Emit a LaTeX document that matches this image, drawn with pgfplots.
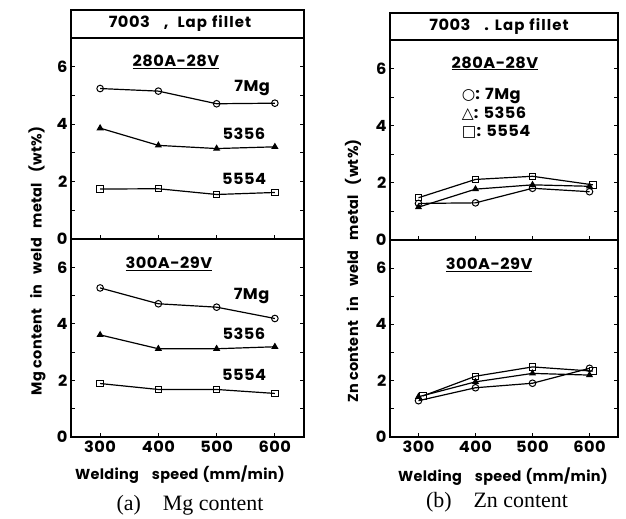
\documentclass[border=0pt]{standalone}
\usepackage{fontspec}
\setmainfont{Poppins}
\newfontfamily\lblfont{Poppins}[LetterSpace=3, FakeStretch=1.05]
\newfontfamily\txtfont{Poppins}[LetterSpace=2]
\newfontfamily\ttlfont{Poppins}[LetterSpace=7]
\newfontfamily\capfont{Liberation Serif}
\newfontfamily\symfont{DejaVu Sans}
\usepackage{pgfplots}
\pgfplotsset{compat=1.18}

\newcommand{\lbl}{\lblfont\bfseries\fontsize{15.5}{18.5}\selectfont}
\newcommand{\txt}{\txtfont\bfseries\fontsize{14.5}{17}\selectfont}
\newcommand{\gap}{\hspace{10bp}}

\pgfplotsset{
  panel/.style={
    scale only axis, xmin=250, xmax=650, ymin=0, ymax=7,
    xtick={300,400,500,600}, ytick={0,1,2,3,4,5,6},
    yticklabels={0,,2,,4,,6},
    xtick pos=left, ytick pos=both,
    tick align=inside, major tick length=4bp,
    axis line style={line width=1.3bp},
    every tick/.style={black, line width=0.9bp},
    /pgf/number format/assume math mode=true,
    ticklabel style={font=\lbl},
    clip=false,
  },
  ser/.style={black, line width=1.2bp, mark options={solid, fill=white, line width=1bp}},
  mg/.style={ser, mark=o, mark size=3.3bp},
  tri/.style={ser, mark=triangle*, mark size=3bp, mark options={fill=black}},
  sq/.style={ser, mark=square, mark size=3.2bp},
}

\begin{document}
\begin{tikzpicture}
\path[use as bounding box] (0,0) rectangle (626bp,519bp);

% ---- (a) Mg content, 280A-28V
\begin{axis}[panel, at={(71bp,280bp)}, anchor=south west,
  width=233bp, height=201bp, xticklabels={}]
  \addplot[mg] coordinates {(300,5.24) (400,5.15) (500,4.71) (600,4.73)};
  \addplot[tri] coordinates {(300,3.86) (400,3.26) (500,3.15) (600,3.21)};
  \addplot[sq] coordinates {(300,1.74) (400,1.75) (500,1.55) (600,1.62)};
  \node[font=\lbl] at (axis cs:430,6.18) {\underline{280A-28V}};
  \node[font=\lbl] at (axis cs:561,5.25) {7Mg};
  \node[font=\lbl] at (axis cs:547,3.66) {5356};
  \node[font=\lbl] at (axis cs:547,2.08) {5554};
\end{axis}
\draw[line width=1.3bp] (71bp,481bp) rectangle (304bp,509bp);
\node[font=\lbl] at (180bp,495bp)
  {7003\hspace{14bp},\hspace{9bp}{\ttlfont\bfseries\fontsize{15}{18}\selectfont Lap\hspace{5bp}fillet}};

% ---- (a) Mg content, 300A-29V
\begin{axis}[panel, at={(71bp,82bp)}, anchor=south west,
  width=233bp, height=198bp]
  \addplot[mg] coordinates {(300,5.27) (400,4.71) (500,4.59) (600,4.19)};
  \addplot[tri] coordinates {(300,3.61) (400,3.12) (500,3.12) (600,3.19)};
  \addplot[sq] coordinates {(300,1.89) (400,1.68) (500,1.68) (600,1.54)};
  \node[font=\lbl] at (axis cs:418,6.12) {\underline{300A-29V}};
  \node[font=\lbl] at (axis cs:560,5.00) {7Mg};
  \node[font=\lbl] at (axis cs:547,3.65) {5356};
  \node[font=\lbl] at (axis cs:547,2.21) {5554};
\end{axis}

% ---- (b) Zn content, 280A-28V
\begin{axis}[panel, at={(390bp,279bp)}, anchor=south west,
  width=228bp, height=200bp, xticklabels={}]
  \addplot[mg] coordinates {(300,1.28) (400,1.30) (500,1.81) (600,1.69)};
  \addplot[tri] coordinates {(300,1.15) (400,1.78) (500,1.93) (600,1.88)};
  \addplot[sq] coordinates {(300,1.48) (400,2.12) (500,2.23) (606,1.93)};
  \node[font=\lbl] at (axis cs:434,6.18) {\underline{280A-28V}};
  \node[font=\lbl, anchor=west, align=left] at (axis cs:370,4.42)
    {{\symfont\bfseries ○}: 7Mg\\[0pt] {\symfont\bfseries △}: 5356\\[0pt] {\symfont\bfseries □}: 5554};
\end{axis}
\draw[line width=1.3bp] (390bp,479bp) rectangle (618bp,506bp);
\node[font=\lbl] at (499bp,492.5bp)
  {7003\hspace{14bp}.\hspace{6bp}{\ttlfont\bfseries\fontsize{15}{18}\selectfont Lap\hspace{5bp}fillet}};

% ---- (b) Zn content, 300A-29V
\begin{axis}[panel, at={(390bp,82bp)}, anchor=south west,
  width=228bp, height=197bp]
  \addplot[mg] coordinates {(300,1.29) (400,1.75) (500,1.91) (600,2.44)};
  \addplot[tri] coordinates {(300,1.43) (400,1.96) (500,2.26) (600,2.20)};
  \addplot[sq] coordinates {(308,1.46) (400,2.16) (500,2.49) (606,2.34)};
  \node[font=\lbl] at (axis cs:424,6.12) {\underline{300A-29V}};
\end{axis}

% axis titles and captions
\node[font=\txt, rotate=90] at (37bp,258bp)
  {Mg content\gap in\gap weld\gap metal\gap (wt\%)};
\node[font=\txt, rotate=90] at (353bp,248bp)
  {Zn content\gap in\gap weld\gap metal\gap (wt\%)};
\node[font=\txt] at (180bp,44bp) {Welding\hspace{13bp}speed\hspace{4bp}(mm/min)};
\node[font=\txt] at (503bp,42bp) {Welding\hspace{13bp}speed\hspace{4bp}(mm/min)};
\node[font=\capfont\fontsize{22}{24}\selectfont] at (190bp,14bp) {(a)\hspace{22bp}Mg content};
\node[font=\capfont\fontsize{22}{24}\selectfont] at (497bp,17bp) {(b)\hspace{22bp}Zn content};
\end{tikzpicture}
\end{document}
